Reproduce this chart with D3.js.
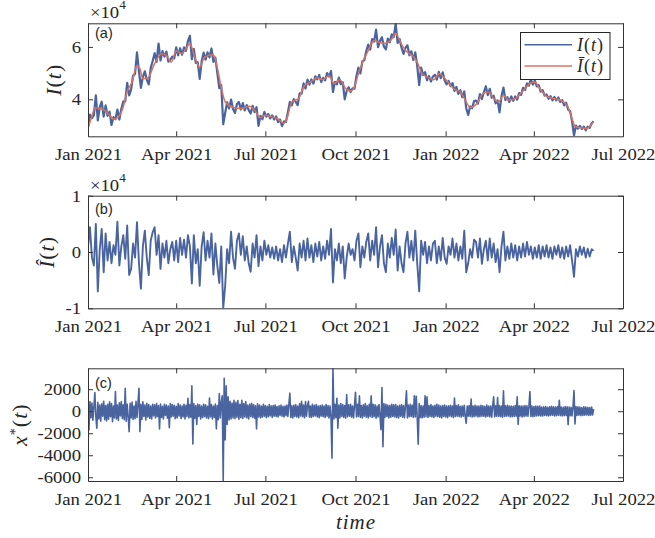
<!DOCTYPE html>
<html>
<head>
<meta charset="utf-8">
<script src="https://cdn.jsdelivr.net/npm/d3@7"></script>
<style>
  body { margin: 0; background: #fff; }
  svg text { font-family: "Liberation Serif", "Times New Roman", serif; fill: #262626; }
  .ax path, .ax line { stroke: #333; stroke-width: 1; }
  .ax text { font-size: 17px; }
  .ax-x text { transform-box: fill-box; transform-origin: center; transform: scaleX(1.1); }
  .ax-y text { transform-box: fill-box; transform-origin: right center; transform: scaleX(1.1); }
  .st { transform-box: fill-box; transform-origin: left center; transform: scaleX(1.1); }
  svg text.tag { font-family: "Liberation Sans", Arial, sans-serif; font-size: 14.5px; }
</style>
</head>
<body>
<svg id="chart" width="655" height="538"></svg>
<script>
// ---- time axis ----
const startDate = new Date(2021, 0, 1);
const xTickDates = [new Date(2021,0,1), new Date(2021,3,1), new Date(2021,6,1), new Date(2021,9,1),
                    new Date(2022,0,1), new Date(2022,3,1), new Date(2022,6,1)];
const xTickLabels = ["Jan 2021", "Apr 2021", "Jul 2021", "Oct 2021", "Jan 2022", "Apr 2022", "Jul 2022"];

// ---- panel (a): price I(t) every 2 days, in units of 10^4 ----
const priceStepDays = 2;
const priceE4 = [
  2.95,3.42,3.28,3.40,4.15,3.20,3.69,3.91,3.34,3.77,
  3.37,3.53,3.02,3.32,3.24,3.61,3.23,3.63,3.92,3.92,
  4.63,4.15,4.38,4.90,4.97,5.79,5.07,4.44,4.86,5.07,
  4.74,4.57,5.19,5.46,5.76,5.43,6.13,5.48,5.84,5.63,
  5.82,5.44,5.51,5.63,5.56,5.98,5.68,5.95,5.70,5.98,
  5.85,6.23,6.42,5.53,5.92,5.39,5.42,4.78,5.45,5.78,
  5.51,5.79,5.60,5.94,5.43,5.59,5.00,4.43,4.54,3.05,
  3.48,3.89,3.65,3.99,3.63,3.48,3.82,3.90,3.61,3.86,
  3.58,3.78,3.59,3.46,3.75,3.51,3.70,2.99,3.37,3.24,
  3.52,3.34,3.44,3.27,3.39,3.23,3.35,3.13,3.23,2.98,
  3.16,3.14,3.51,3.90,3.77,4.01,3.90,3.78,4.23,4.22,
  4.61,4.41,4.75,4.56,4.76,4.60,4.88,4.76,4.93,4.66,
  4.82,4.72,5.00,4.87,5.08,4.28,4.67,4.57,4.83,4.58,
  4.65,4.00,4.32,4.46,4.28,4.42,4.41,4.89,5.21,4.99,
  5.45,5.49,5.84,6.09,5.90,6.30,6.20,6.66,5.99,6.23,
  6.37,6.01,5.91,6.32,6.18,6.48,6.37,6.88,6.15,6.30,
  5.97,5.73,5.97,6.06,5.68,5.83,5.50,5.79,5.28,4.54,
  5.21,4.92,5.04,4.73,4.89,4.68,4.87,4.94,4.75,5.05,
  4.81,5.03,4.72,4.57,4.70,4.50,4.62,4.32,4.47,4.21,
  4.35,4.08,4.30,3.66,3.40,3.73,3.66,3.93,3.95,3.84,
  4.20,4.01,4.27,4.50,4.16,4.40,4.06,4.14,3.85,3.96,
  3.50,4.12,4.45,3.97,4.08,3.90,4.11,3.94,4.11,3.99,
  4.24,4.17,4.44,4.35,4.61,4.52,4.76,4.56,4.72,4.49,
  4.54,4.29,4.35,4.14,4.19,4.02,4.12,3.96,4.09,3.96,
  4.07,3.90,3.97,3.77,3.87,3.61,3.55,3.17,2.62,3.00,
  2.88,2.99,2.87,2.96,2.82,2.96,2.91,3.09,3.16
];

// smoothed trend Ī(t): sample day and value (10^4)
const trendDays = [0,4,7,12,17,22,26,31,36,40,45,50,53,56,61,68,75,80,85,90,
  96,99,104,109,114,119,128,131,136,140,147,157,165,170,176,181,188,193,200,203,
  208,215,220,227,234,240,246,251,257,263,268,271,276,281,286,292,297,303,310,314,
  319,324,331,336,341,348,353,358,366,373,380,385,390,397,403,409,414,419,424,429,
  436,443,451,456,461,468,475,482,489,494,497,502,509,512,516];
const trendE4 = [2.90,3.35,3.68,3.65,3.58,3.40,3.24,3.33,3.71,4.30,4.66,5.29,5.17,4.79,4.82,5.36,5.74,5.68,5.42,5.84,
  5.74,5.87,6.12,5.61,5.23,5.61,5.71,5.36,4.47,3.90,3.71,3.65,3.74,3.58,3.30,3.39,3.33,3.27,3.08,3.27,
  3.90,4.03,4.47,4.66,4.82,4.75,4.91,4.60,4.75,4.41,4.32,4.41,4.98,5.48,5.86,6.24,6.17,6.14,6.30,6.52,
  6.17,5.86,5.67,5.42,4.98,4.82,4.75,4.98,4.72,4.41,4.28,3.97,3.69,3.84,4.22,4.28,4.03,3.90,4.15,3.97,
  4.03,4.28,4.60,4.66,4.41,4.11,4.03,3.97,3.77,3.27,2.97,2.92,2.89,2.97,3.14];

// ---- panel (b): detrended component Î(t) every 2 days, 10^4 ----
const detrendE4 = [
  0.10,0.44,-0.10,-0.24,0.50,-0.70,0.05,0.41,-0.36,0.33,
  -0.15,0.18,-0.20,0.12,-0.05,0.54,-0.24,0.10,0.30,-0.12,
  0.47,-0.41,-0.30,0.15,-0.10,0.53,-0.20,-0.65,0.10,0.38,
  -0.10,-0.41,0.20,0.35,0.44,-0.05,0.30,-0.30,0.15,-0.10,
  0.20,-0.20,0.05,0.18,-0.15,0.20,-0.18,0.25,-0.05,0.22,
  -0.10,0.30,0.10,-0.56,0.30,-0.20,0.05,-0.60,0.10,0.35,
  -0.15,0.20,-0.10,0.33,-0.40,0.15,-0.25,-0.55,0.10,-1.00,
  -0.60,0.05,-0.20,0.36,-0.10,-0.30,0.20,0.33,-0.05,0.28,
  -0.15,0.10,-0.20,-0.35,0.15,-0.10,0.30,-0.25,0.10,-0.15,
  0.20,-0.05,0.12,-0.10,0.08,-0.12,0.10,-0.15,0.05,-0.18,
  0.12,-0.10,0.15,0.36,-0.18,0.10,-0.10,-0.33,0.15,-0.10,
  0.20,-0.15,0.24,-0.10,0.12,-0.18,0.15,-0.08,0.18,-0.15,
  0.10,-0.12,0.20,-0.05,0.41,-0.54,0.05,-0.15,0.15,-0.20,
  0.10,-0.47,-0.10,0.15,-0.05,0.05,-0.15,0.20,0.33,-0.27,
  0.10,-0.10,0.18,0.33,-0.15,0.20,-0.05,0.44,-0.27,0.10,
  0.30,-0.20,-0.36,0.15,-0.10,0.25,-0.05,0.40,-0.33,0.10,
  -0.20,-0.36,0.15,0.36,-0.10,0.20,-0.15,0.38,-0.20,-0.70,
  0.20,-0.05,0.18,-0.20,0.10,-0.15,0.15,0.20,-0.20,0.10,
  -0.15,0.25,-0.10,-0.21,0.10,-0.05,0.24,-0.10,0.15,-0.15,
  0.10,-0.12,0.38,-0.36,-0.20,0.05,-0.10,0.22,0.18,-0.10,
  0.24,-0.21,0.05,0.20,-0.15,0.24,-0.10,0.15,-0.18,0.05,
  -0.36,0.10,0.36,-0.15,0.10,-0.12,0.15,-0.10,0.12,-0.15,
  0.10,-0.10,0.15,-0.08,0.18,-0.05,0.10,-0.12,0.08,-0.10,
  0.12,-0.12,0.10,-0.08,0.12,-0.10,0.08,-0.12,0.10,-0.05,
  0.12,-0.10,0.08,-0.12,0.10,-0.08,0.12,-0.15,-0.44,0.05,
  -0.08,0.10,-0.05,0.08,-0.10,0.06,-0.08,0.05,0.02
];

// ---- panel (c): residual x*(t), daily ----
const residualStepDays = 1;
const residual = [
  300,-1700,870,-600,750,-820,400,1690,-500,-1550,
  820,-700,560,-900,680,-450,900,-760,520,-880,
  640,-720,850,-500,700,-950,480,-620,1780,-700,
  560,-840,760,-420,880,-660,590,-780,2090,-900,
  640,-520,-1850,720,-600,830,-750,480,-680,900,
  -560,700,2090,-1850,620,-740,850,-480,560,-800,
  720,-520,600,-650,480,-700,640,-430,580,-620,
  700,-480,520,-1610,660,-560,450,-700,620,-380,
  560,-640,480,-1500,700,-520,600,-460,540,-680,
  450,-600,700,-420,560,-650,480,-520,640,-700,
  530,-480,1180,-620,600,-550,2300,-2970,700,-640,
  520,-1200,650,-480,590,-700,460,-560,640,-500,
  580,-620,450,-680,1200,-520,600,-700,480,-560,
  650,-1600,520,-760,1600,-600,820,1400,-6310,3000,
  -2610,2300,-1200,1300,-800,900,-700,750,-620,1000,
  -680,820,-540,960,-720,640,-580,1000,-650,700,
  -520,880,-600,560,-700,640,-480,720,-560,600,
  -640,500,-1600,680,-520,560,-600,480,-540,620,
  -460,520,-580,440,-500,600,-420,480,-560,520,
  -440,560,-480,420,-520,500,-380,560,-460,440,
  -520,480,-400,560,-480,620,1640,-560,500,-620,
  540,-480,600,-520,460,-580,700,-440,900,-500,
  560,-600,880,-460,520,900,-540,480,-560,620,
  -480,540,-420,600,-520,460,-580,520,-440,560,
  -500,480,-560,600,-460,520,-620,480,-540,-4270,
  3900,-700,640,-580,1180,-1550,560,-620,700,-480,
  600,-560,520,-640,1520,-500,580,-460,620,-540,
  480,-600,560,1730,-520,640,-480,1400,-560,520,
  -620,580,-460,700,-540,500,-600,640,-480,1400,
  -560,620,-500,580,-640,480,-520,600,-460,-1670,
  2150,-3220,700,-560,620,-480,560,-600,520,-540,
  640,-480,580,-520,600,-560,480,-620,540,-460,
  600,-540,520,-580,480,1850,-600,560,-500,620,
  -480,540,-560,1400,-520,1350,-600,-3000,700,-560,
  520,-600,480,-540,1400,-500,1300,-560,520,-480,
  600,-520,480,-560,540,-460,620,-500,560,-540,
  480,-600,520,-480,560,-520,460,-580,500,-440,
  540,-500,460,-560,1200,-480,520,-460,580,-500,
  440,-520,480,-460,540,-500,-1100,480,-440,520,
  -480,1100,-520,460,-500,540,-440,480,-520,460,
  -500,540,-460,500,-480,440,-520,560,-460,480,
  -500,460,-540,480,1300,-520,500,-460,1250,-480,
  520,-500,460,-540,1850,-480,500,-460,540,-440,
  480,-520,460,-500,440,-480,520,-460,1300,-1200,
  500,-440,480,-520,460,-480,520,-440,500,-460,
  440,1780,-480,460,-500,420,-460,480,-420,440,
  -400,460,-420,380,-440,400,-380,420,-400,360,
  -420,400,-380,440,-360,400,-420,380,-400,420,
  -360,1000,-400,380,-420,360,-400,420,-380,400,
  -1230,380,-400,360,-420,400,1870,-1150,420,-380,
  400,-360,380,-400,340,-380,400,-360,380,-340,
  360,-380,340,-360,380,-340,200
];

// ---- axis ticks ----
const priceTicks = [4, 6], priceTickLabels = ["4", "6"];
const detrendTicks = [-1, 0, 1], detrendTickLabels = ["-1", "0", "1"];
const residualTicks = [-6000, -4000, -2000, 0, 2000],
      residualTickLabels = ["-6000", "-4000", "-2000", "0", "2000"];

const BLUE = "#4a64a0", RED = "#d87461";
const SERIF = "'Liberation Serif', 'Times New Roman', serif";

const svg = d3.select("#chart");
const left = 88, right = 623;
const x = d3.scaleTime().domain([new Date(2021,0,1), new Date(2022,6,1)]).range([left, right]);
const dayDate = d => d3.timeDay.offset(startDate, d);

const panels = [
  { id: "a", top: 23.3, bottom: 136.3, domain: [2.59, 6.90], ticks: priceTicks, labels: priceTickLabels },
  { id: "b", top: 195.7, bottom: 308.3, domain: [-1, 1], ticks: detrendTicks, labels: detrendTickLabels },
  { id: "c", top: 368.3, bottom: 481, domain: [-6340, 3900], ticks: residualTicks, labels: residualTickLabels }
];
panels.forEach(p => { p.y = d3.scaleLinear().domain(p.domain).range([p.bottom, p.top]); });

const defs = svg.append("defs");
panels.forEach(p => {
  defs.append("clipPath").attr("id", "clip-" + p.id)
    .append("rect").attr("x", left).attr("y", p.top).attr("width", right - left).attr("height", p.bottom - p.top);
});

function drawSeries(p, values, step, color, width) {
  const line = d3.line()
    .x((d, i) => x(dayDate(i * step)))
    .y(d => p.y(d));
  svg.append("path").datum(values)
    .attr("clip-path", `url(#clip-${p.id})`)
    .attr("fill", "none").attr("stroke", color).attr("stroke-width", width)
    .attr("stroke-linejoin", "round")
    .attr("d", line);
}

// panel (a)
drawSeries(panels[0], priceE4, priceStepDays, BLUE, 2.2);
svg.append("path").datum(trendDays.map((d, i) => [d, trendE4[i]]))
  .attr("clip-path", "url(#clip-a)")
  .attr("fill", "none").attr("stroke", RED).attr("stroke-width", 1.5)
  .attr("d", d3.line().x(d => x(dayDate(d[0]))).y(d => panels[0].y(d[1])).curve(d3.curveMonotoneX));

// panel (b)
drawSeries(panels[1], detrendE4, priceStepDays, BLUE, 1.9);

// panel (c)
drawSeries(panels[2], residual, residualStepDays, BLUE, 1.6);

// ---- frames ----
function clean(g) { g.attr("font-family", SERIF).attr("font-size", null); }
panels.forEach(p => {
  const gb = svg.append("g").attr("class", "ax ax-x").attr("transform", `translate(0,${p.bottom})`)
    .call(d3.axisBottom(x).tickValues(xTickDates).tickFormat((d, i) => xTickLabels[i])
      .tickSize(-5).tickSizeOuter(0).tickPadding(12));
  clean(gb);
  const gt = svg.append("g").attr("class", "ax").attr("transform", `translate(0,${p.top})`)
    .call(d3.axisTop(x).tickValues(xTickDates).tickFormat(() => "").tickSize(-5).tickSizeOuter(0));
  clean(gt);
  const gl = svg.append("g").attr("class", "ax ax-y").attr("transform", `translate(${left},0)`)
    .call(d3.axisLeft(p.y).tickValues(p.ticks).tickFormat((d, i) => p.labels[i])
      .tickSize(-5).tickSizeOuter(0).tickPadding(7));
  clean(gl);
  const gr = svg.append("g").attr("class", "ax").attr("transform", `translate(${right},0)`)
    .call(d3.axisRight(p.y).tickValues(p.ticks).tickFormat(() => "").tickSize(-5).tickSizeOuter(0));
  clean(gr);
  gt.selectAll("text").remove();
  gr.selectAll("text").remove();
});

// panel tags
[["(a)", panels[0].top + 14.5], ["(b)", panels[1].top + 18.3], ["(c)", panels[2].top + 19.4]].forEach(([t, y]) => {
  svg.append("text").attr("class", "tag").attr("x", 95).attr("y", y).text(t);
});

// exponent markers
function exponent(yBase) {
  const t = svg.append("text").attr("class", "st").attr("x", 90).attr("y", yBase)
    .attr("font-family", SERIF).style("font-size", "17px");
  t.append("tspan").text("×10");
  t.append("tspan").attr("dy", -9).style("font-size", "12px").text("4");
}
exponent(18);
exponent(191);

// math-style labels: parts = [text, italic?, dy, size]
function mathText(g, parts, size) {
  const t = g.append("text").attr("text-anchor", "middle").attr("font-family", SERIF)
    .style("font-size", size + "px").style("letter-spacing", "1px");
  parts.forEach(([s, it, dy, fs]) => {
    const ts = t.append("tspan").text(s);
    if (it) ts.style("font-style", "italic");
    if (dy) ts.attr("dy", dy);
    if (fs) ts.style("font-size", fs + "px");
  });
  return t;
}
mathText(svg.append("g").attr("transform", `translate(61,${(panels[0].top + panels[0].bottom) / 2}) rotate(-90)`),
  [["I", true], ["(", false], ["t", true], [")", false]], 22);
mathText(svg.append("g").attr("transform", `translate(54,${(panels[1].top + panels[1].bottom) / 2}) rotate(-90)`),
  [["Î", true], ["(", false], ["t", true], [")", false]], 22);
mathText(svg.append("g").attr("transform", `translate(27,${(panels[2].top + panels[2].bottom) / 2}) rotate(-90)`),
  [["x", true], ["*", false, -7, 14], ["(", false, 7], ["t", true], [")", false]], 22);
mathText(svg.append("g").attr("transform", "translate(356,529)"), [["time", true]], 21);

// legend
const lg = svg.append("g");
lg.append("rect").attr("x", 520.5).attr("y", 32.5).attr("width", 89.5).attr("height", 47)
  .attr("fill", "#fff").attr("stroke", "#262626").attr("stroke-width", 1);
lg.append("line").attr("x1", 524.5).attr("x2", 572).attr("y1", 44.7).attr("y2", 44.7)
  .attr("stroke", BLUE).attr("stroke-width", 1.5);
lg.append("line").attr("x1", 524.5).attr("x2", 572).attr("y1", 66).attr("y2", 66)
  .attr("stroke", RED).attr("stroke-width", 1.5);
function legendText(y, first) {
  const t = lg.append("text").attr("x", 577).attr("y", y).attr("font-family", SERIF)
    .style("font-size", "18px").style("letter-spacing", "1px");
  t.append("tspan").style("font-style", "italic").text(first);
  t.append("tspan").text("(");
  t.append("tspan").style("font-style", "italic").text("t");
  t.append("tspan").text(")");
}
legendText(50.5, "I");
legendText(71.5, "Ī");
</script>
</body>
</html>
